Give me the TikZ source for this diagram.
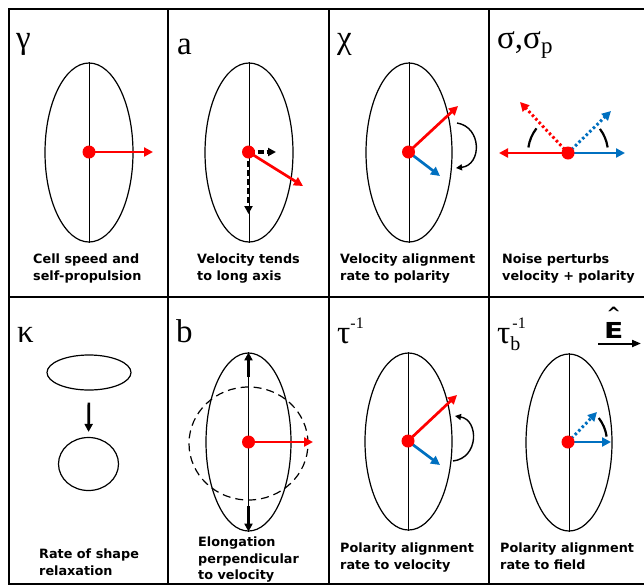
\documentclass[tikz,border=0pt]{standalone}
\usepackage{fontspec}
\setmainfont{DejaVu Sans}
\newfontfamily\grk{Liberation Serif}
\usetikzlibrary{arrows.meta,shapes.geometric,calc}
\definecolor{vred}{RGB}{255,0,0}
\definecolor{pblue}{RGB}{0,112,192}
\newcommand{\gsupr}[1]{\raisebox{15pt}{\fontsize{16}{16}\selectfont #1}}
\newcommand{\gsubr}[1]{\raisebox{-5pt}{\fontsize{23}{23}\selectfont #1}}
\begin{document}
\begin{tikzpicture}[x=1pt,y=-1pt,
  frame/.style={line width=2.5pt},
  cell/.style={draw,ellipse,line width=1.2pt,inner sep=0pt},
  axisline/.style={line width=0.7pt},
  dot/.style={circle,fill=vred,inner sep=0pt,minimum size=13pt},
  tipbig/.style={-{Triangle[length=9pt,width=9pt]}},
  vel/.style={draw=vred,line width=2.7pt,tipbig},
  pol/.style={draw=pblue,line width=2.7pt,tipbig},
  noisy/.style={line width=3pt,dash pattern=on 2.5pt off 2.5pt},
  blk/.style={draw=black,line width=2.7pt,-{Triangle[length=8pt,width=8pt]}},
  blkdash/.style={blk,line width=3.2pt,dash pattern=on 6pt off 3pt},
  turn/.style={line width=1.4pt,-{Triangle[length=6pt,width=6pt]}},
  swing/.style={line width=2.2pt},
  lab/.style={anchor=base west,inner sep=0pt,font=\grk\fontsize{33}{33}\selectfont},
  caption/.style={anchor=north west,inner sep=0pt,align=left,font=\bfseries\fontsize{12.8}{17}\selectfont}
]
\useasboundingbox (0,0) rectangle (644,587);
\clip (0,0) rectangle (644,587);
\fill[white] (0,0) rectangle (644,587);

% frame
\draw[frame] (650,9) -- (9,9) -- (9,584) -- (650,584);
\draw[frame] (9,297) -- (650,297);
\draw[frame] (168,9) -- (168,584);
\draw[frame] (329,9) -- (329,584);
\draw[frame] (489,9) -- (489,584);

% ---------- panel 1: gamma
\node[lab] (l1) at (16,48) {γ};
\node[cell,minimum width=88pt,minimum height=179pt] (el1) at (89,152.5) {};
\draw[axisline] (el1.north) -- (el1.south);
\coordinate (c1) at (89,152);
\coordinate (v1) at (153,152);
\draw[vel] (c1) -- (v1);
\node[dot] (d1) at (c1) {};
\node[caption] (t1) at (33,254) {Cell speed and\\self-propulsion};

% ---------- panel 2: a
\node[lab] (l2) at (177,54) {a};
\node[cell,minimum width=88pt,minimum height=179pt] (el2) at (249,152.5) {};
\draw[axisline] (el2.north) -- (el2.south);
\coordinate (c2) at (248.5,152);
\coordinate (k2) at (276,152);
\coordinate (m2) at (248.5,214);
\coordinate (v2) at (303,186);
\draw[blkdash] (c2) -- (k2);
\draw[blkdash] (c2) -- (m2);
\draw[vel] (c2) -- (v2);
\node[dot] (d2) at (c2) {};
\node[caption] (t2) at (197,254) {Velocity tends\\to long axis};

% ---------- panel 3: chi
\node[lab] (l3) at (337,48) {χ};
\node[cell,minimum width=86pt,minimum height=179pt] (el3) at (409,152.5) {};
\draw[axisline] (el3.north) -- (el3.south);
\coordinate (c3) at (408.5,152);
\coordinate (v3) at (458,106);
\coordinate (p3) at (440,176);
\draw[vel] (c3) -- (v3);
\draw[pol] (c3) -- (p3);
\node[dot] (d3) at (c3) {};
\coordinate (a3) at (457,123);
\coordinate (b3) at (456,168);
\draw[turn] (a3) .. controls (482,127) and (482,165) .. (b3);
\node[caption] (t3) at (340,254) {Velocity alignment\\rate to polarity};

% ---------- panel 4: sigma
\node[lab] (l4) at (497,48) {σ,σ\gsubr{p}};
\coordinate (c4) at (568,153);
\coordinate (v4) at (499,153);
\coordinate (p4) at (625,153);
\coordinate (vn4) at (520,102);
\coordinate (pn4) at (611,111);
\draw[vel] (c4) -- (v4);
\draw[pol] (c4) -- (p4);
\draw[vel,noisy] (c4) -- (vn4);
\draw[pol,noisy] (c4) -- (pn4);
\draw[swing] ($(c4)+(142:40pt)$) arc[start angle=142,end angle=172,radius=40pt];
\draw[swing] ($(c4)+(37:40pt)$) arc[start angle=37,end angle=8,radius=40pt];
\node[dot] (d4) at (c4) {};
\node[caption] (t4) at (502,254) {Noise perturbs\\velocity + polarity};

% ---------- panel 5: kappa
\node[lab] (l5) at (17,342) {κ};
\node[cell,minimum width=84pt,minimum height=35pt] (el5) at (89,372.5) {};
\node[cell,minimum width=60pt,minimum height=53pt] (ci5) at (88.5,464) {};
\draw[blk,shorten <=12pt,shorten >=5pt] (el5.south) -- (ci5.north);
\node[caption] (t5) at (39,549) {Rate of shape\\relaxation};

% ---------- panel 6: b
\node[lab] (l6) at (176,342) {b};
\node[cell,minimum width=85pt,minimum height=178pt] (el6) at (248.5,442) {};
\node[cell,dashed,dash pattern=on 8pt off 5pt,minimum width=119pt,minimum height=113pt] (ci6) at (248.5,443.5) {};
\draw[axisline] (el6.north) -- (el6.south);
\coordinate (c6) at (248.5,442);
\coordinate (u6) at (248.5,377);
\coordinate (w6) at (248.5,506);
\draw[blk] (u6) -- (el6.north);
\draw[blk] (w6) -- (el6.south);
\coordinate (v6) at (313,442);
\draw[vel] (c6) -- (v6);
\node[dot] (d6) at (c6) {};
\node[caption,font=\bfseries\fontsize{12.8}{16.5}\selectfont] (t6) at (198,537) {Elongation\\perpendicular\\to velocity};

% ---------- panel 7: tau^-1
\node[lab] (l7) at (337,343) {τ\gsupr{-1}};
\node[cell,minimum width=87pt,minimum height=177pt] (el7) at (408.5,441.5) {};
\draw[axisline] (el7.north) -- (el7.south);
\coordinate (c7) at (408,441);
\coordinate (v7) at (457,395);
\coordinate (p7) at (440,465);
\draw[vel] (c7) -- (v7);
\draw[pol] (c7) -- (p7);
\node[dot] (d7) at (c7) {};
\coordinate (a7) at (453,461);
\coordinate (b7) at (455,416);
\draw[turn] (a7) .. controls (479,458) and (479,420) .. (b7);
\node[caption] (t7) at (340,543) {Polarity alignment\\rate to velocity};

% ---------- panel 8: tau_b^-1
\node[lab] (l8) at (497,343) {τ\rlap{\kern2pt\gsupr{-1}}\raisebox{-7pt}{\fontsize{20}{20}\selectfont b}};
\node[cell,minimum width=86pt,minimum height=177pt] (el8) at (569,442.5) {};
\draw[axisline] (el8.north) -- (el8.south);
\coordinate (c8) at (568,442);
\coordinate (p8) at (611,442);
\coordinate (pn8) at (597,412);
\draw[pol] (c8) -- (p8);
\draw[pol,noisy] (c8) -- (pn8);
\draw[swing] ($(c8)+(38:39pt)$) arc[start angle=38,end angle=8,radius=39pt];
\node[dot] (d8) at (c8) {};
\node[caption] (t8) at (500,543) {Polarity alignment\\rate to field};
\node[anchor=base west,inner sep=0pt,font=\bfseries\fontsize{22}{22}\selectfont] (E) at (604,338)
  {\ooalign{\scalebox{1.28}[1]{E}\cr\hidewidth\raisebox{19pt}{\fontsize{17}{17}\selectfont\textasciicircum}\hidewidth\cr}};
\coordinate (ea) at (598,343.5);
\coordinate (eb) at (641,343.5);
\draw[line width=2pt,-{Triangle[length=9pt,width=7pt]}] (ea) -- (eb);
\end{tikzpicture}
\end{document}
